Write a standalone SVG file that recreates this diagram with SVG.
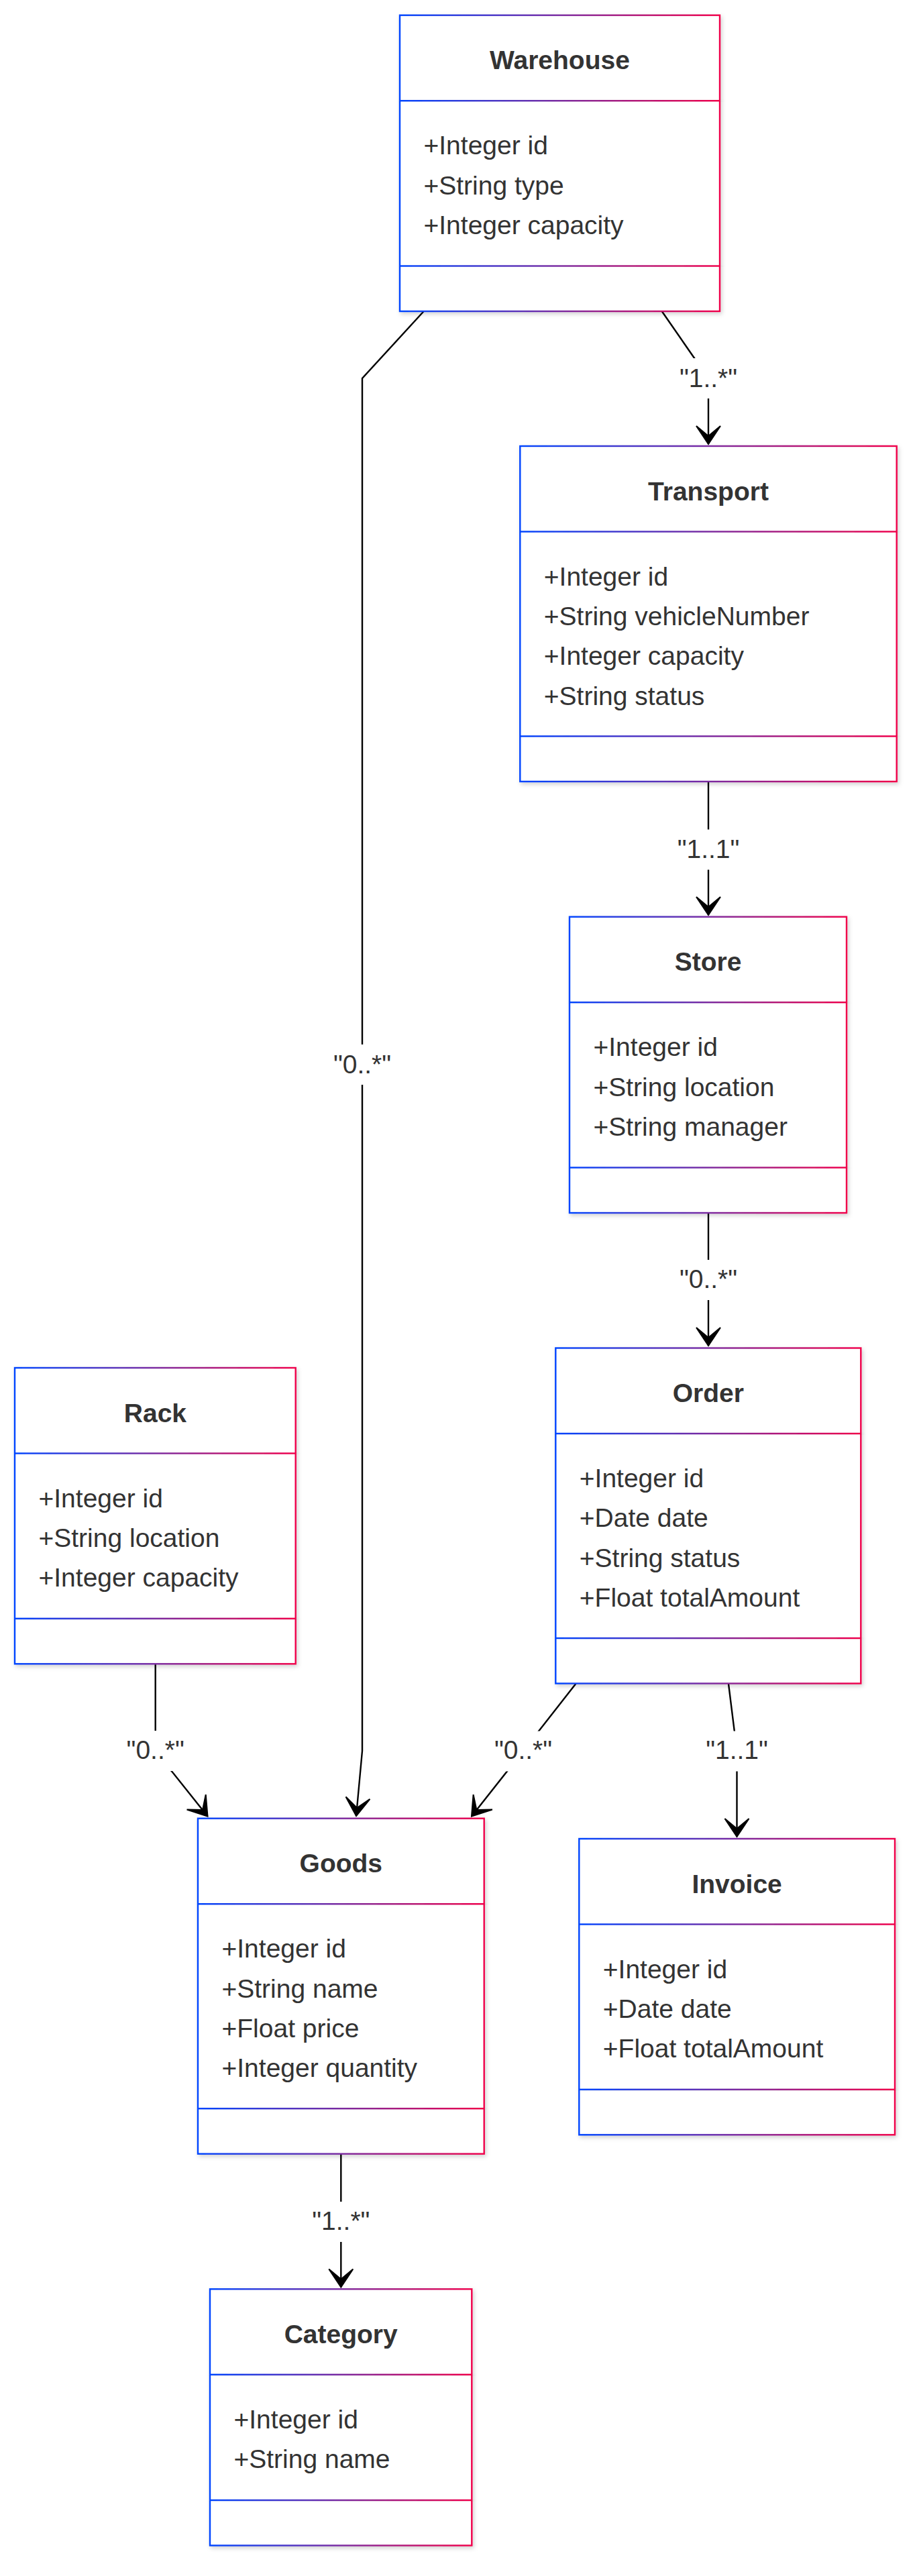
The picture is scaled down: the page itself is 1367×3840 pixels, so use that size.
<svg xmlns="http://www.w3.org/2000/svg" width="1367" height="3840" viewBox="0 0 1367 3840">
<defs>
<linearGradient id="g" x1="0" y1="0" x2="1" y2="0">
<stop offset="0" stop-color="#0044ff"/>
<stop offset="0.5" stop-color="#7a2aa0"/>
<stop offset="1" stop-color="#f0004a"/>
</linearGradient>
<filter id="sh" x="-10%" y="-10%" width="120%" height="120%">
<feDropShadow dx="2" dy="3" stdDeviation="3" flood-color="#000" flood-opacity="0.18"/>
</filter>
<marker id="arr" markerUnits="userSpaceOnUse" viewBox="-32 -22 36 44" markerWidth="36" markerHeight="44" refX="0" refY="0" orient="auto">
<path d="M0,0 L-27,-18 L-12,0 L-27,18 Z" fill="#000" stroke="#000" stroke-width="2" stroke-linejoin="miter"/>
</marker>
</defs>
<style>
.box{fill:#ffffff;stroke:url(#g);stroke-width:2.4;filter:url(#sh)}
.div{fill:url(#g);filter:url(#sh)}
.title{font-family:"Liberation Sans",Arial,sans-serif;font-size:39px;font-weight:bold;fill:#333333;text-anchor:middle}
.attr{font-family:"Liberation Sans",Arial,sans-serif;font-size:39px;fill:#333333}
.edge{fill:none;stroke:#000000;stroke-width:2.4;marker-end:url(#arr)}
.lbg{fill:#ffffff}
.lbl{font-family:"Liberation Sans",Arial,sans-serif;font-size:39px;fill:#333333;text-anchor:middle}
</style>
<rect width="1367" height="3840" fill="#ffffff"/>

<g id="connectors">
<path class="edge" d="M631.7,464 L540,564 L540,2610 L531,2707"/>
<path class="edge" d="M986.7,464 L1056,564 L1056,662"/>
<path class="edge" d="M1056,1165 L1056,1364"/>
<path class="edge" d="M1056,1808 L1056,2006"/>
<path class="edge" d="M231.7,2480 L231.7,2610 L309.5,2707.5"/>
<path class="edge" d="M858.3,2510 L780,2610 L703,2707.5"/>
<path class="edge" d="M1086,2510 L1098.5,2610 L1098.5,2738"/>
<path class="edge" d="M508.3,3211 L508.3,3409.5"/>
<rect class="lbg" x="1010" y="534" width="92" height="60"/>
<text class="lbl" x="1056" y="577">"1..*"</text>
<rect class="lbg" x="494" y="1557" width="92" height="60"/>
<text class="lbl" x="540" y="1599.5">"0..*"</text>
<rect class="lbg" x="1008" y="1236.5" width="96" height="60"/>
<text class="lbl" x="1056" y="1278.5">"1..1"</text>
<rect class="lbg" x="1010" y="1878" width="92" height="60"/>
<text class="lbl" x="1056" y="1920">"0..*"</text>
<rect class="lbg" x="186" y="2580" width="92" height="60"/>
<text class="lbl" x="231.7" y="2622">"0..*"</text>
<rect class="lbg" x="734" y="2580.5" width="92" height="60"/>
<text class="lbl" x="780" y="2622">"0..*"</text>
<rect class="lbg" x="1050.5" y="2580.5" width="96" height="60"/>
<text class="lbl" x="1098.5" y="2622">"1..1"</text>
<rect class="lbg" x="462" y="3282" width="92" height="60"/>
<text class="lbl" x="508.3" y="3324.4">"1..*"</text>
</g>

<g id="Warehouse">
<rect class="box" x="596" y="22.7" width="477" height="441.3"/>
<rect class="div" x="596" y="149" width="477" height="2.4"/>
<rect class="div" x="596" y="395.3" width="477" height="2.4"/>
<text class="title" x="834.5" y="103.2">Warehouse</text>
<text class="attr" x="631.5" y="230.2">+Integer id</text>
<text class="attr" x="631.5" y="289.6">+String type</text>
<text class="attr" x="631.5" y="349">+Integer capacity</text>
</g>

<g id="Transport">
<rect class="box" x="775.3" y="665" width="561.4" height="500"/>
<rect class="div" x="775.3" y="791.3" width="561.4" height="2.4"/>
<rect class="div" x="775.3" y="1096.3" width="561.4" height="2.4"/>
<text class="title" x="1056" y="745.5">Transport</text>
<text class="attr" x="810.8" y="872.5">+Integer id</text>
<text class="attr" x="810.8" y="931.9">+String vehicleNumber</text>
<text class="attr" x="810.8" y="991.3">+Integer capacity</text>
<text class="attr" x="810.8" y="1050.7">+String status</text>
</g>

<g id="Store">
<rect class="box" x="849" y="1366.7" width="413" height="441.3"/>
<rect class="div" x="849" y="1493" width="413" height="2.4"/>
<rect class="div" x="849" y="1739.3" width="413" height="2.4"/>
<text class="title" x="1055.5" y="1447.2">Store</text>
<text class="attr" x="884.5" y="1574.2">+Integer id</text>
<text class="attr" x="884.5" y="1633.6">+String location</text>
<text class="attr" x="884.5" y="1693">+String manager</text>
</g>

<g id="Order">
<rect class="box" x="828.3" y="2009.5" width="455" height="500"/>
<rect class="div" x="828.3" y="2135.8" width="455" height="2.4"/>
<rect class="div" x="828.3" y="2440.8" width="455" height="2.4"/>
<text class="title" x="1055.8" y="2090">Order</text>
<text class="attr" x="863.8" y="2217">+Integer id</text>
<text class="attr" x="863.8" y="2276.4">+Date date</text>
<text class="attr" x="863.8" y="2335.8">+String status</text>
<text class="attr" x="863.8" y="2395.2">+Float totalAmount</text>
</g>

<g id="Rack">
<rect class="box" x="22" y="2039" width="418.7" height="441.3"/>
<rect class="div" x="22" y="2165.3" width="418.7" height="2.4"/>
<rect class="div" x="22" y="2411.6" width="418.7" height="2.4"/>
<text class="title" x="231.4" y="2119.5">Rack</text>
<text class="attr" x="57.5" y="2246.5">+Integer id</text>
<text class="attr" x="57.5" y="2305.9">+String location</text>
<text class="attr" x="57.5" y="2365.3">+Integer capacity</text>
</g>

<g id="Goods">
<rect class="box" x="295" y="2710.7" width="426.7" height="500"/>
<rect class="div" x="295" y="2837" width="426.7" height="2.4"/>
<rect class="div" x="295" y="3142" width="426.7" height="2.4"/>
<text class="title" x="508.3" y="2791.2">Goods</text>
<text class="attr" x="330.5" y="2918.2">+Integer id</text>
<text class="attr" x="330.5" y="2977.6">+String name</text>
<text class="attr" x="330.5" y="3037">+Float price</text>
<text class="attr" x="330.5" y="3096.4">+Integer quantity</text>
</g>

<g id="Invoice">
<rect class="box" x="863.3" y="2741" width="470.7" height="441.3"/>
<rect class="div" x="863.3" y="2867.3" width="470.7" height="2.4"/>
<rect class="div" x="863.3" y="3113.6" width="470.7" height="2.4"/>
<text class="title" x="1098.6" y="2821.5">Invoice</text>
<text class="attr" x="898.8" y="2948.5">+Integer id</text>
<text class="attr" x="898.8" y="3007.9">+Date date</text>
<text class="attr" x="898.8" y="3067.3">+Float totalAmount</text>
</g>

<g id="Category">
<rect class="box" x="313" y="3412.3" width="390.3" height="382.2"/>
<rect class="div" x="313" y="3538.6" width="390.3" height="2.4"/>
<rect class="div" x="313" y="3725.8" width="390.3" height="2.4"/>
<text class="title" x="508.2" y="3493.3">Category</text>
<text class="attr" x="348.5" y="3619.8">+Integer id</text>
<text class="attr" x="348.5" y="3679.2">+String name</text>
</g>
</svg>
